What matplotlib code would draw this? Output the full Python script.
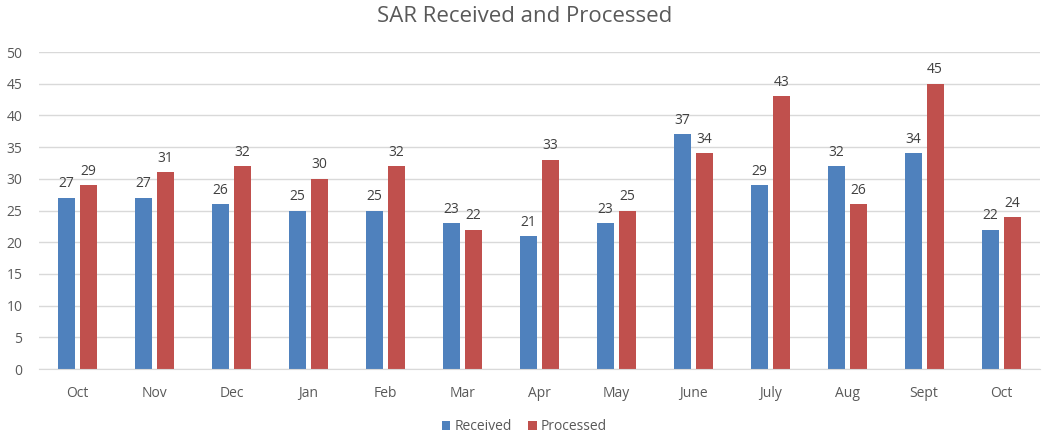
import matplotlib
matplotlib.use("Agg")
import matplotlib.pyplot as plt
import numpy as np

months = ["Oct", "Nov", "Dec", "Jan", "Feb", "Mar", "Apr", "May", "June", "July", "Aug", "Sept", "Oct"]
received = [27, 27, 26, 25, 25, 23, 21, 23, 37, 29, 32, 34, 22]
processed = [29, 31, 32, 30, 32, 22, 33, 25, 34, 43, 26, 45, 24]

plt.rcParams['font.family'] = ['Open Sans', 'DejaVu Sans']
text_color = '#595959'
grid_color = '#d9d9d9'
blue = '#4F81BD'
red = '#C0504D'

fig = plt.figure(figsize=(10.49, 4.37), dpi=100)
ax = fig.add_axes([0.0372, 0.1556, 0.9538, 0.7254])

x = np.arange(len(months))
w = 0.22
off = 0.143
b1 = ax.bar(x - off, received, w, color=blue, label='Received', zorder=3)
b2 = ax.bar(x + off, processed, w, color=red, label='Processed', zorder=3)

for bars, vals in ((b1, received), (b2, processed)):
    for r, v in zip(bars, vals):
        ax.text(r.get_x() + r.get_width() / 2, v + 1.0, str(v), ha='center', va='bottom',
                fontsize=10, color='#404040')

ax.set_xlim(-0.5, len(months) - 0.5)
ax.set_ylim(0, 50)
ax.set_yticks(range(0, 51, 5))
ax.set_xticks(x)
ax.set_xticklabels(months)
ax.tick_params(axis='both', length=0, colors=text_color, labelsize=10)
ax.tick_params(axis='x', pad=12)
ax.tick_params(axis='y', pad=12)
ax.yaxis.grid(True, color=grid_color, linewidth=1, zorder=0)
for s in ['top', 'right', 'left']:
    ax.spines[s].set_visible(False)
ax.spines['bottom'].set_color(grid_color)
ax.spines['bottom'].set_zorder(4)

fig.text(0.5, 0.962, 'SAR Received and Processed', ha='center', va='center', fontsize=16, color=text_color)
fig.legend(handles=[b1, b2], loc='center', bbox_to_anchor=(0.5, 0.024), ncol=2, frameon=False,
           fontsize=10, handlelength=0.6, handleheight=0.6, handletextpad=0.3, columnspacing=1.2,
           labelcolor=text_color)

fig.savefig('out.png', dpi=100)
